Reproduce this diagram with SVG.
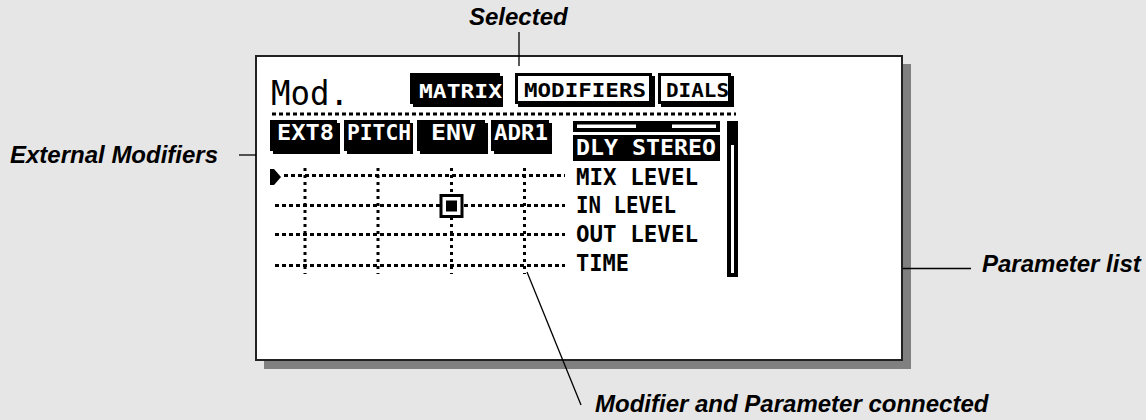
<svg xmlns="http://www.w3.org/2000/svg" width="1146" height="420" viewBox="0 0 1146 420">
<style>
.lbl{font-family:"Liberation Sans",Arial,sans-serif;font-weight:bold;font-style:italic;font-size:24px;fill:#000}
.lcd{font-family:"DejaVu Sans Mono","Liberation Mono",monospace;font-weight:bold}
.lcdthin{font-family:"DejaVu Sans Mono","Liberation Mono",monospace;font-weight:normal}
.inv{fill:#fff}
.ink{fill:#000}
.hdot{stroke:#000;stroke-width:3;stroke-dasharray:4 3;fill:none}
.vdot{stroke:#000;stroke-width:3;stroke-dasharray:3 4;fill:none}
.lead{stroke:#000;stroke-width:1.3;fill:none}
.tabbox{fill:#fff;stroke:#000;stroke-width:3}
</style>
<rect width="1146" height="420" fill="#e6e6e6"/>

<g id="display">
  <rect x="264" y="64" width="647" height="305" fill="#808080"/>
  <rect x="256" y="56" width="646" height="304" fill="#fff" stroke="#222" stroke-width="2"/>
  <text class="lcdthin ink" x="271" y="105" font-size="34" textLength="78" lengthAdjust="spacingAndGlyphs">Mod.</text>
</g>

<g id="tab-matrix">
  <rect class="ink" x="413" y="76" width="90" height="31"/>
  <rect class="ink" x="410" y="73" width="90" height="31"/>
  <text class="lcd inv" x="419" y="98" font-size="19" textLength="83" lengthAdjust="spacingAndGlyphs">MATRIX</text>
</g>
<g id="tab-modifiers">
  <rect class="ink" x="518" y="76" width="137" height="31"/>
  <rect class="tabbox" x="516.5" y="74.5" width="134" height="28"/>
  <text class="lcd ink" x="524" y="97" font-size="19" textLength="122" lengthAdjust="spacingAndGlyphs">MODIFIERS</text>
</g>
<g id="tab-dials">
  <rect class="ink" x="661" y="76" width="73" height="31"/>
  <rect class="tabbox" x="659.5" y="74.5" width="70" height="28"/>
  <text class="lcd ink" x="666" y="97" font-size="19" textLength="63" lengthAdjust="spacingAndGlyphs">DIALS</text>
</g>

<line class="hdot" x1="272" y1="114" x2="736" y2="114"/>

<g id="mod-ext8">
  <rect class="ink" x="273" y="123" width="67" height="31"/>
  <rect class="ink" x="270" y="120" width="67" height="31"/>
  <text class="lcd inv" x="277" y="140" font-size="21" textLength="57" lengthAdjust="spacingAndGlyphs">EXT8</text>
</g>
<g id="mod-pitch">
  <rect class="ink" x="347" y="123" width="66" height="31"/>
  <rect class="ink" x="344" y="120" width="66" height="31"/>
  <text class="lcd inv" x="347" y="140" font-size="21" textLength="64" lengthAdjust="spacingAndGlyphs">PITCH</text>
</g>
<g id="mod-env">
  <rect class="ink" x="420" y="123" width="68" height="31"/>
  <rect class="ink" x="417" y="120" width="68" height="31"/>
  <text class="lcd inv" x="431" y="140" font-size="21" textLength="45" lengthAdjust="spacingAndGlyphs">ENV</text>
</g>
<g id="mod-adr1">
  <rect class="ink" x="494" y="123" width="58" height="31"/>
  <rect class="ink" x="491" y="120" width="58" height="31"/>
  <text class="lcd inv" x="494" y="140" font-size="21" textLength="54" lengthAdjust="spacingAndGlyphs">ADR1</text>
</g>

<g id="param-list">
  <rect class="ink" x="573" y="121" width="147" height="11"/>
  <rect class="inv" x="577" y="124.5" width="59" height="3.5"/>
  <rect class="inv" x="672" y="124.5" width="44" height="3.5"/>
  <rect class="ink" x="573" y="135" width="147" height="26"/>
  <text class="lcd inv" x="576" y="155" font-size="22" textLength="140" lengthAdjust="spacingAndGlyphs">DLY STEREO</text>
  <text class="lcd ink" x="576" y="185" font-size="23" textLength="122" lengthAdjust="spacingAndGlyphs">MIX LEVEL</text>
  <text class="lcd ink" x="576" y="213" font-size="23" textLength="100" lengthAdjust="spacingAndGlyphs">IN LEVEL</text>
  <text class="lcd ink" x="576" y="242" font-size="23" textLength="122" lengthAdjust="spacingAndGlyphs">OUT LEVEL</text>
  <text class="lcd ink" x="576" y="271" font-size="23" textLength="53" lengthAdjust="spacingAndGlyphs">TIME</text>
</g>

<g id="scrollbar">
  <rect class="ink" x="727" y="121" width="11" height="156"/>
  <rect class="inv" x="731" y="145" width="3" height="128"/>
</g>

<g id="matrix-grid">
  <polygon class="ink" points="270,169 274,169 281,177 274,185 270,185"/>
  <line class="hdot" x1="284" y1="175.5" x2="565" y2="175.5"/>
  <line class="hdot" x1="275" y1="205.5" x2="565" y2="205.5"/>
  <line class="hdot" x1="275" y1="234.5" x2="565" y2="234.5"/>
  <line class="hdot" x1="275" y1="265.5" x2="565" y2="265.5"/>
  <line class="vdot" x1="305" y1="168" x2="305" y2="274"/>
  <line class="vdot" x1="378" y1="168" x2="378" y2="274"/>
  <line class="vdot" x1="451.5" y1="168" x2="451.5" y2="274"/>
  <line class="vdot" x1="524.5" y1="168" x2="524.5" y2="274"/>
  <g id="crosspoint">
    <rect x="441" y="195.5" width="21" height="21" fill="#fff" stroke="#000" stroke-width="3"/>
    <rect class="ink" x="446" y="200.5" width="11" height="11"/>
  </g>
</g>

<g id="callout-selected">
  <text class="lbl" x="469" y="25">Selected</text>
</g>
<g id="callout-external">
  <text class="lbl" x="10" y="163">External Modifiers</text>
</g>
<g id="callout-paramlist">
  <text class="lbl" x="982" y="272">Parameter list</text>
</g>
<g id="callout-connected">
  <text class="lbl" x="595" y="412">Modifier and Parameter connected</text>
</g>

<g id="connectors">
  <line class="lead" x1="519" y1="32" x2="519" y2="66"/>
  <line class="lead" x1="239" y1="155" x2="256" y2="155"/>
  <line class="lead" x1="903" y1="268.5" x2="971" y2="268.5"/>
  <line class="lead" x1="527" y1="272" x2="581" y2="405"/>
</g>
</svg>
